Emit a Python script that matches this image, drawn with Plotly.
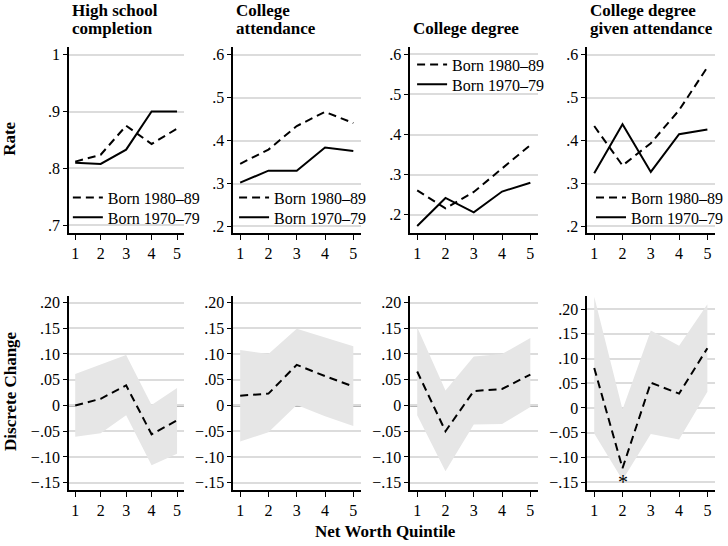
import plotly.graph_objects as go

quintiles = [1, 2, 3, 4, 5]
title_lines = [["High school", "completion"], ["College", "attendance"], ["", "College degree"], ["College degree", "given attendance"]]
legend_names = ["Born 1980–89", "Born 1970–79"]

# Top row: rates
hs_1980 = [0.812, 0.824, 0.875, 0.843, 0.870]
hs_1970 = [0.810, 0.808, 0.833, 0.900, 0.900]
att_1980 = [0.346, 0.379, 0.434, 0.467, 0.441]
att_1970 = [0.302, 0.330, 0.330, 0.384, 0.376]
deg_1980 = [0.261, 0.216, 0.257, 0.315, 0.374]
deg_1970 = [0.172, 0.242, 0.206, 0.258, 0.280]
dga_1980 = [0.434, 0.342, 0.394, 0.471, 0.571]
dga_1970 = [0.324, 0.438, 0.327, 0.415, 0.426]

# Bottom row: discrete change with confidence band
hs_dc = [0.000, 0.013, 0.039, -0.056, -0.029]
hs_hi = [0.061, 0.080, 0.098, 0.001, 0.034]
hs_lo = [-0.061, -0.054, -0.019, -0.116, -0.094]
att_dc = [0.019, 0.023, 0.079, 0.057, 0.037]
att_hi = [0.108, 0.100, 0.149, 0.132, 0.115]
att_lo = [-0.070, -0.052, 0.001, -0.021, -0.040]
deg_dc = [0.066, -0.050, 0.028, 0.032, 0.060]
deg_hi = [0.152, 0.029, 0.095, 0.100, 0.131]
deg_lo = [-0.019, -0.128, -0.037, -0.036, -0.003]
dga_dc = [0.081, -0.122, 0.051, 0.029, 0.121]
dga_hi = [0.225, -0.003, 0.157, 0.126, 0.210]
dga_lo = [-0.052, -0.146, -0.053, -0.064, 0.033]

# significance marker (panel 4, quintile 2)
star_x = [2]
star_y = [-0.150]

top_tickvals = [[0.7, 0.8, 0.9, 1.0], [0.2, 0.3, 0.4, 0.5, 0.6], [0.2, 0.3, 0.4, 0.5, 0.6], [0.2, 0.3, 0.4, 0.5, 0.6]]
top_ticktext = [[".7", ".8", ".9", "1"], [".2", ".3", ".4", ".5", ".6"], [".2", ".3", ".4", ".5", ".6"], [".2", ".3", ".4", ".5", ".6"]]
bot_tickvals = [-0.15, -0.10, -0.05, 0, 0.05, 0.10, 0.15, 0.20]
bot_ticktext = ["−.15", "−.10", "−.05", "0", ".05", ".10", ".15", ".20"]
x_ticktext = ["1", "2", "3", "4", "5"]

rates = [(hs_1980, hs_1970), (att_1980, att_1970), (deg_1980, deg_1970), (dga_1980, dga_1970)]
changes = [(hs_dc, hs_lo, hs_hi), (att_dc, att_lo, att_hi), (deg_dc, deg_lo, deg_hi), (dga_dc, dga_lo, dga_hi)]

W, H = 728, 546
FONT = "Liberation Serif"
x_px = [(70, 187), (237, 367), (417, 547), (597, 727)]
top_px = (45, 233)
bot_px = (296, 492)
top_ranges = [[0.686, 1.014], [0.184, 0.619], [0.154, 0.619], [0.184, 0.619]]
bot_ranges = [[-0.165, 0.213], [-0.165, 0.213], [-0.165, 0.213], [-0.167, 0.227]]
# legend anchor per panel: (left x, centre y of first entry, centre y of second entry)
legend_pos = [(69, 197, 217), (238, 197, 217), (419, 63, 83), (601, 197, 217)]

DASH = "8px,5px"
GRID = "#dcdcdc"
FILL = "#e6e6e6"
TICK_SIZE = 16
BOLD_SIZE = 17

fig = go.Figure()
layout = dict(width=W, height=H, margin=dict(l=0, r=0, t=0, b=0),
              paper_bgcolor="white", plot_bgcolor="white",
              font=dict(family=FONT, size=15, color="black"), showlegend=True)

shapes = []
annotations = []

def ax_common():
    return dict(showline=True, linecolor="black", linewidth=1.5, ticks="outside",
                tickcolor="black", ticklen=4, tickwidth=1.2, zeroline=False,
                tickfont=dict(family=FONT, size=TICK_SIZE, color="black"))

leg_count = 0
for i in range(4):
    # top
    n = i + 1
    xa, ya = f"x{n}", f"y{n}"
    d80, d70 = rates[i]
    lx, ly1, ly2 = legend_pos[i]
    for series, name, dash, ly in [(d80, legend_names[0], DASH, ly1), (d70, legend_names[1], "solid", ly2)]:
        leg_count += 1
        lg = "legend" if leg_count == 1 else f"legend{leg_count}"
        fig.add_trace(go.Scatter(x=quintiles, y=series, mode="lines", name=name,
                                 line=dict(color="black", width=2, dash=dash),
                                 xaxis=xa, yaxis=ya, legend=lg))
        layout[lg] = dict(x=lx / W, y=1 - ly / H, xanchor="left", yanchor="middle",
                          bgcolor="rgba(0,0,0,0)", borderwidth=0, itemwidth=30,
                          font=dict(family=FONT, size=16, color="black"))
    x0, x1 = x_px[i]
    xd = [x0 / W, x1 / W]
    layout[f"xaxis{n}" if n > 1 else "xaxis"] = dict(ax_common(), domain=xd, anchor=ya,
        range=[0.75, 5.27], tickvals=quintiles, ticktext=x_ticktext, ticklen=5, showgrid=False)
    layout[f"yaxis{n}" if n > 1 else "yaxis"] = dict(ax_common(), domain=[1 - top_px[1] / H, 1 - top_px[0] / H],
        anchor=xa, range=top_ranges[i], tickvals=top_tickvals[i], ticktext=top_ticktext[i],
        showgrid=True, gridcolor=GRID, gridwidth=1.6)

    # bottom
    m = i + 5
    xb, yb = f"x{m}", f"y{m}"
    dc, lo, hi = changes[i]
    fig.add_trace(go.Scatter(x=quintiles, y=lo, mode="lines", line=dict(width=0, color=FILL),
                             showlegend=False, hoverinfo="skip", xaxis=xb, yaxis=yb))
    fig.add_trace(go.Scatter(x=quintiles, y=hi, mode="lines", line=dict(width=0, color=FILL),
                             fill="tonexty", fillcolor=FILL,
                             showlegend=False, hoverinfo="skip", xaxis=xb, yaxis=yb))
    fig.add_trace(go.Scatter(x=quintiles, y=dc, mode="lines", line=dict(color="black", width=2, dash=DASH),
                             showlegend=False, xaxis=xb, yaxis=yb))
    layout[f"xaxis{m}"] = dict(ax_common(), domain=xd, anchor=yb,
        range=[0.75, 5.27], tickvals=quintiles, ticktext=x_ticktext, ticklen=5, showgrid=False)
    layout[f"yaxis{m}"] = dict(ax_common(), domain=[1 - bot_px[1] / H, 1 - bot_px[0] / H],
        anchor=xb, range=bot_ranges[i], tickvals=bot_tickvals, ticktext=bot_ticktext,
        showgrid=True, gridcolor=GRID, gridwidth=1.6)
    shapes.append(dict(type="line", xref=f"x{m} domain", yref=yb, x0=0, x1=1, y0=0, y1=0,
                       line=dict(color="#6e6e6e", width=2), layer="below"))

    # panel title (two lines, tight spacing)
    for txt, yc in zip(title_lines[i], [9, 27]):
        if txt:
            annotations.append(dict(text=f"<b>{txt}</b>", xref="paper", yref="paper",
                                    x=(x0 + 1) / W, y=1 - yc / H, xanchor="left", yanchor="middle",
                                    showarrow=False,
                                    font=dict(family=FONT, size=BOLD_SIZE, color="black")))

# star marker
for sx, sy in zip(star_x, star_y):
    annotations.append(dict(text="*", x=sx, y=sy, xref="x8", yref="y8", showarrow=False,
                            font=dict(family=FONT, size=20, color="black"),
                            xanchor="center", yanchor="middle"))

annotations.append(dict(text="<b>Rate</b>", xref="paper", yref="paper", x=10 / W, y=1 - 138 / H,
                        xanchor="center", yanchor="middle",
                        textangle=-90, showarrow=False, font=dict(family=FONT, size=BOLD_SIZE)))
annotations.append(dict(text="<b>Discrete Change</b>", xref="paper", yref="paper", x=10 / W, y=1 - 392 / H,
                        xanchor="center", yanchor="middle",
                        textangle=-90, showarrow=False, font=dict(family=FONT, size=BOLD_SIZE)))
annotations.append(dict(text="<b>Net Worth Quintile</b>", xref="paper", yref="paper", x=392 / W, y=1 - 533 / H,
                        xanchor="center", yanchor="middle",
                        showarrow=False, font=dict(family=FONT, size=BOLD_SIZE)))

layout["shapes"] = shapes
layout["annotations"] = annotations
fig.update_layout(**layout)
fig.write_html("out.html", config={"displayModeBar": False},
               post_script="document.body.style.margin='0px';document.body.style.overflow='hidden';")
